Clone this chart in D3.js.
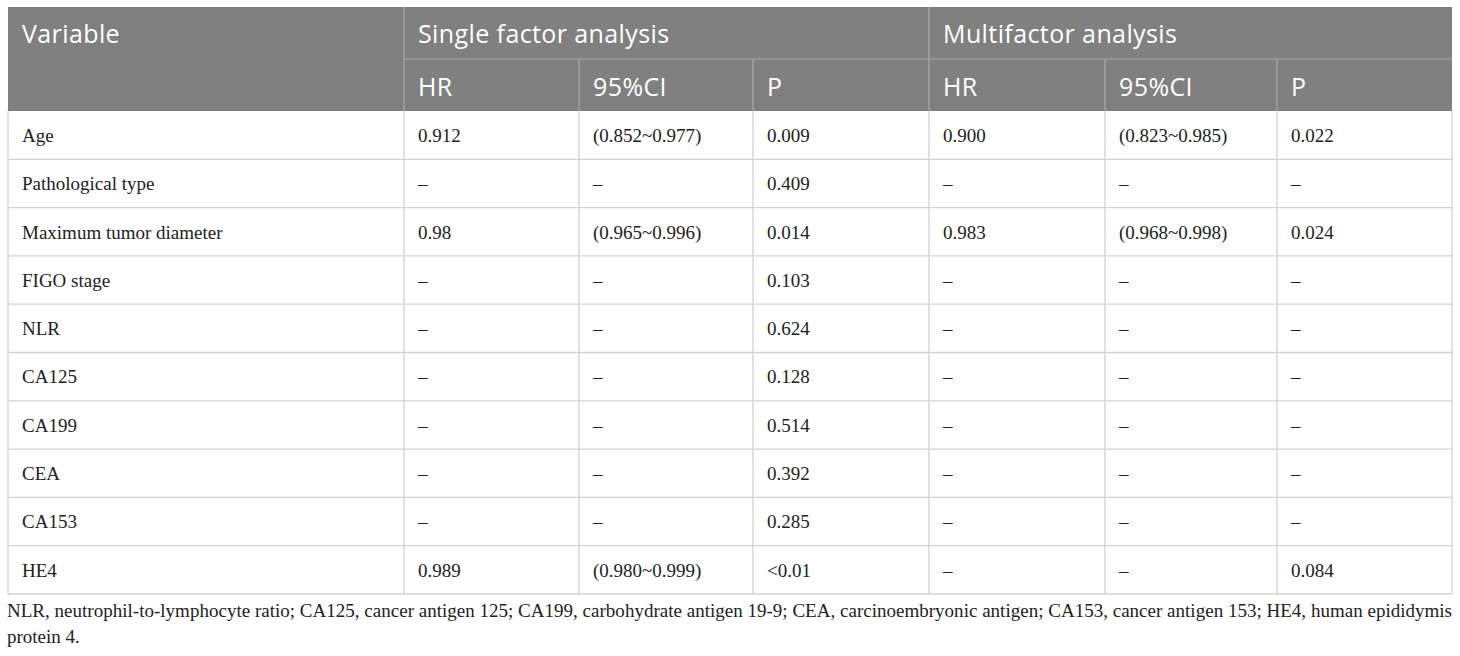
<!DOCTYPE html>
<html lang="en">
<head>
<meta charset="utf-8">
<title>table</title>
<script src="https://d3js.org/d3.v7.min.js"></script>
<style type="text/css">
body { margin: 0; background: #fff; }
.head { font-family: "Open Sans", Lato, sans-serif; fill: #fff; letter-spacing: 0.4px; }
.cell { font-family: "Liberation Serif", "Times New Roman", serif; fill: #222; }
</style>
</head>
<body>
<div id="tbl"></div>
<script>

  // table content
  var groups = ["Single factor analysis", "Multifactor analysis"];
  var subHeads = ["HR", "95%CI", "P", "HR", "95%CI", "P"];
  var variables = ["Age", "Pathological type", "Maximum tumor diameter", "FIGO stage", "NLR",
                   "CA125", "CA199", "CEA", "CA153", "HE4"];
  var singleHR = ["0.912", "\u2013", "0.98", "\u2013", "\u2013", "\u2013", "\u2013", "\u2013", "\u2013", "0.989"];
  var singleCI = ["(0.852~0.977)", "\u2013", "(0.965~0.996)", "\u2013", "\u2013", "\u2013", "\u2013", "\u2013", "\u2013", "(0.980~0.999)"];
  var singleP  = ["0.009", "0.409", "0.014", "0.103", "0.624", "0.128", "0.514", "0.392", "0.285", "<0.01"];
  var multiHR  = ["0.900", "\u2013", "0.983", "\u2013", "\u2013", "\u2013", "\u2013", "\u2013", "\u2013", "\u2013"];
  var multiCI  = ["(0.823~0.985)", "\u2013", "(0.968~0.998)", "\u2013", "\u2013", "\u2013", "\u2013", "\u2013", "\u2013", "\u2013"];
  var multiP   = ["0.022", "\u2013", "0.024", "\u2013", "\u2013", "\u2013", "\u2013", "\u2013", "\u2013", "0.084"];
  var footLines = ["NLR, neutrophil-to-lymphocyte ratio; CA125, cancer antigen 125; CA199, carbohydrate antigen 19-9; CEA, carcinoembryonic antigen; CA153, cancer antigen 153; HE4, human epididymis",
                   "protein 4."];

  var columns = [variables, singleHR, singleCI, singleP, multiHR, multiCI, multiP];

  var W = 1460, H = 656;
  var svg = d3.select("#tbl").append("svg")
    .attr("width", W)
    .attr("height", H);

  // column edges (left of each column), last one is the right border
  var colX = d3.scaleOrdinal()
    .domain(d3.range(8))
    .range([8, 404, 579, 753, 929, 1105, 1277, 1452]);

  // header rows and body rows
  var headY = d3.scaleBand().domain([0, 1]).range([7, 111]);
  var rowY = d3.scaleBand().domain(variables).range([111, 594]);

  var headFill = "#808080", headLine = "#a8a8a8", gridLine = "#d2d2d2";

  // header background
  svg.append("rect")
    .attr("x", colX(0)).attr("y", headY(0))
    .attr("width", colX(7) - colX(0))
    .attr("height", headY.range()[1] - headY(0))
    .attr("fill", headFill);

  // header lines
  svg.append("line")
    .attr("x1", colX(1)).attr("x2", colX(7))
    .attr("y1", headY(1)).attr("y2", headY(1))
    .attr("stroke", headLine).attr("stroke-width", 1.2);
  [1, 4].forEach(function(c) {
    svg.append("line")
      .attr("x1", colX(c)).attr("x2", colX(c))
      .attr("y1", headY(0)).attr("y2", headY(1) + headY.bandwidth())
      .attr("stroke", headLine).attr("stroke-width", 1.2);
  });
  [2, 3, 5, 6].forEach(function(c) {
    svg.append("line")
      .attr("x1", colX(c)).attr("x2", colX(c))
      .attr("y1", headY(1)).attr("y2", headY(1) + headY.bandwidth())
      .attr("stroke", headLine).attr("stroke-width", 1.2);
  });

  // header text
  var hs = 25;
  svg.append("text").attr("class", "head")
    .attr("x", colX(0) + 14).attr("y", headY(0) + 36)
    .attr("font-size", hs).text("Variable");
  svg.selectAll(".grp").data(groups).enter().append("text")
    .attr("class", "head grp")
    .attr("x", function(d, i) { return colX(1 + i * 3) + 14; })
    .attr("y", headY(0) + 36)
    .attr("font-size", hs)
    .text(function(d) { return d; });
  svg.selectAll(".sub").data(subHeads).enter().append("text")
    .attr("class", "head sub")
    .attr("x", function(d, i) { return colX(i + 1) + 14; })
    .attr("y", headY(1) + 37)
    .attr("font-size", hs)
    .text(function(d) { return d; });

  // body grid
  var body = svg.append("g");
  variables.forEach(function(v) {
    body.append("line")
      .attr("x1", colX(0)).attr("x2", colX(7))
      .attr("y1", rowY(v) + rowY.bandwidth()).attr("y2", rowY(v) + rowY.bandwidth())
      .attr("stroke", gridLine).attr("stroke-width", 1.3);
  });
  d3.range(8).forEach(function(c) {
    body.append("line")
      .attr("x1", colX(c)).attr("x2", colX(c))
      .attr("y1", rowY.range()[0]).attr("y2", rowY.range()[1])
      .attr("stroke", gridLine).attr("stroke-width", 1.3);
  });

  // body cells
  columns.forEach(function(col, c) {
    body.selectAll(".c" + c).data(col).enter().append("text")
      .attr("class", "cell c" + c)
      .attr("x", colX(c) + 14)
      .attr("y", function(d, i) { return rowY(variables[i]) + rowY.bandwidth() / 2 + 6.8; })
      .attr("font-size", 19)
      .text(function(d) { return d; });
  });

  // footnote
  svg.selectAll(".foot").data(footLines).enter().append("text")
    .attr("class", "cell foot")
    .attr("x", colX(0) - 1)
    .attr("y", function(d, i) { return 617 + i * 26; })
    .attr("font-size", 19)
    .attr("textLength", function(d, i) { return i == 0 ? colX(7) - colX(0) + 1 : null; })
    .attr("lengthAdjust", "spacing")
    .text(function(d) { return d; });

</script>
</body>
</html>
